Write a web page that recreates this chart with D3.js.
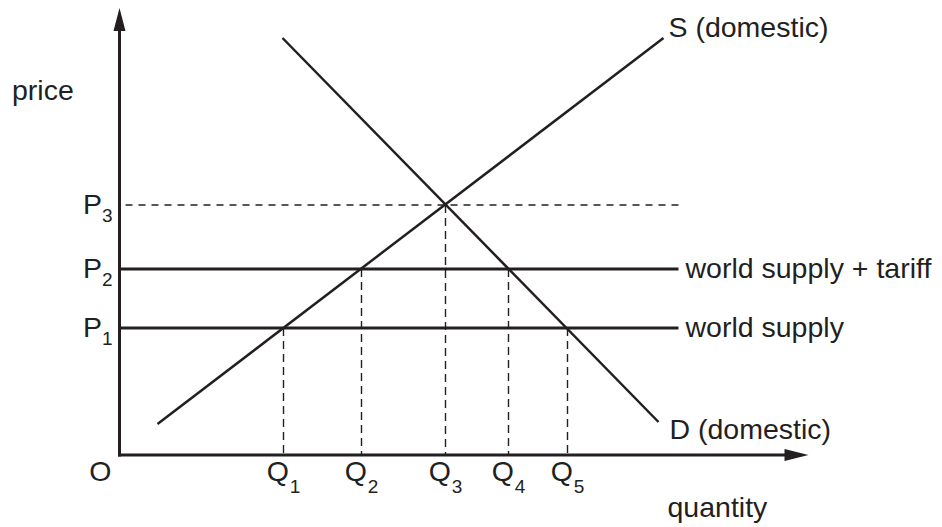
<!DOCTYPE html>
<html>
<head>
<meta charset="utf-8">
<script src="https://cdn.jsdelivr.net/npm/d3@7"></script>
<style>
  body { margin: 0; background: #fff; }
  text { font-family: "Liberation Sans", Arial, sans-serif; fill: #231f20; }
</style>
</head>
<body>
<script>
// Chart values (quantity / price units, origin at O)
const priceNames = ["P1", "P2", "P3"];
const priceValues = [127, 186, 250];
const quantityNames = ["Q1", "Q2", "Q3", "Q4", "Q5"];
const quantityValues = [164, 242, 326, 389, 448];
// price each Q dashed line rises to
const quantityPrices = [127, 186, 250, 186, 127];

const supplyQ = [38, 544];
const supplyP = [31, 417];
const demandQ = [163, 539];
const demandP = [417, 33];

const worldLabels = ["world supply", "world supply + tariff"];
const worldPrices = [127, 186];
const lineEndQ = 559;

const width = 942;
const height = 527;
const ink = "#231f20";
const fontSize = "28.5px";
const subSize = "19px";

const svg = d3
  .select("body")
  .append("svg")
  .attr("width", width)
  .attr("height", height);

// Scales
const x = d3.scaleLinear().domain([0, 690]).range([119.5, 809.5]);
const y = d3.scaleLinear().domain([0, 447]).range([455, 8]);

// dashed guides
svg
  .append("line")
  .attr("x1", x(6))
  .attr("x2", x(lineEndQ))
  .attr("y1", y(priceValues[2]))
  .attr("y2", y(priceValues[2]))
  .attr("stroke", ink)
  .attr("stroke-width", 1.4)
  .attr("stroke-dasharray", "7,6");

svg
  .selectAll(".qguide")
  .data(quantityValues)
  .enter()
  .append("line")
  .attr("class", "qguide")
  .attr("x1", (d) => x(d))
  .attr("x2", (d) => x(d))
  .attr("y1", (d, i) => y(quantityPrices[i]))
  .attr("y2", y(0))
  .attr("stroke", ink)
  .attr("stroke-width", 1.4)
  .attr("stroke-dasharray", "8,5");

// world supply lines
svg
  .selectAll(".world")
  .data(worldPrices)
  .enter()
  .append("line")
  .attr("class", "world")
  .attr("x1", x(0))
  .attr("x2", x(lineEndQ))
  .attr("y1", (d) => y(d))
  .attr("y2", (d) => y(d))
  .attr("stroke", ink)
  .attr("stroke-width", 2.8);

svg
  .selectAll(".worldLabel")
  .data(worldLabels)
  .enter()
  .append("text")
  .attr("class", "worldLabel")
  .attr("x", x(lineEndQ) + 7)
  .attr("y", (d, i) => y(worldPrices[i]) + 9)
  .style("font-size", fontSize)
  .text((d) => d);

// supply and demand
const line = d3
  .line()
  .x((d) => x(d[0]))
  .y((d) => y(d[1]));

svg
  .append("path")
  .attr("d", line(d3.zip(supplyQ, supplyP)))
  .attr("fill", "none")
  .attr("stroke", ink)
  .attr("stroke-width", 2.5);

svg
  .append("path")
  .attr("d", line(d3.zip(demandQ, demandP)))
  .attr("fill", "none")
  .attr("stroke", ink)
  .attr("stroke-width", 2.5);

svg
  .append("text")
  .attr("x", x(supplyQ[1]) + 5)
  .attr("y", y(supplyP[1]) - 1)
  .style("font-size", fontSize)
  .text("S (domestic)");

svg
  .append("text")
  .attr("x", x(demandQ[1]) + 11)
  .attr("y", y(demandP[1]) + 17)
  .style("font-size", fontSize)
  .text("D (domestic)");

// axes with arrows
svg
  .append("line")
  .attr("x1", x(0))
  .attr("x2", x(0))
  .attr("y1", y(0) + 1.5)
  .attr("y2", y(425))
  .attr("stroke", ink)
  .attr("stroke-width", 3);

svg
  .append("line")
  .attr("x1", x(0) - 1.5)
  .attr("x2", x(668))
  .attr("y1", y(0))
  .attr("y2", y(0))
  .attr("stroke", ink)
  .attr("stroke-width", 3);

svg
  .append("path")
  .attr(
    "d",
    `M${x(0)},${y(447)} L${x(0) - 6},${y(424)} L${x(0) + 6},${y(424)} Z`
  )
  .attr("fill", ink);

svg
  .append("path")
  .attr(
    "d",
    `M${x(689)},${y(0)} L${x(665)},${y(0) - 6} L${x(665)},${y(0) + 6} Z`
  )
  .attr("fill", ink);

// axis labels
svg
  .append("text")
  .attr("x", 12)
  .attr("y", 100)
  .style("font-size", fontSize)
  .text("price");

svg
  .append("text")
  .attr("x", x(548))
  .attr("y", 517)
  .style("font-size", fontSize)
  .text("quantity");

svg
  .append("text")
  .attr("x", x(0) - 8)
  .attr("y", 481)
  .attr("text-anchor", "end")
  .style("font-size", fontSize)
  .text("O");

// Q tick labels with subscripts
const qLabels = svg
  .selectAll(".qlabel")
  .data(quantityNames)
  .enter()
  .append("text")
  .attr("class", "qlabel")
  .attr("x", (d, i) => x(quantityValues[i]))
  .attr("y", 481)
  .attr("text-anchor", "middle")
  .style("font-size", fontSize);
qLabels.append("tspan").text((d) => d[0]);
qLabels
  .append("tspan")
  .attr("dx", 1)
  .attr("dy", 12)
  .style("font-size", subSize)
  .text((d) => d.slice(1));

// P tick labels with subscripts
const pLabels = svg
  .selectAll(".plabel")
  .data(priceNames)
  .enter()
  .append("text")
  .attr("class", "plabel")
  .attr("x", x(0) - 7)
  .attr("y", (d, i) => y(priceValues[i]) + 9)
  .attr("text-anchor", "end")
  .style("font-size", fontSize);
pLabels.append("tspan").text((d) => d[0]);
pLabels
  .append("tspan")
  .attr("dy", 8)
  .style("font-size", subSize)
  .text((d) => d.slice(1));
</script>
</body>
</html>
